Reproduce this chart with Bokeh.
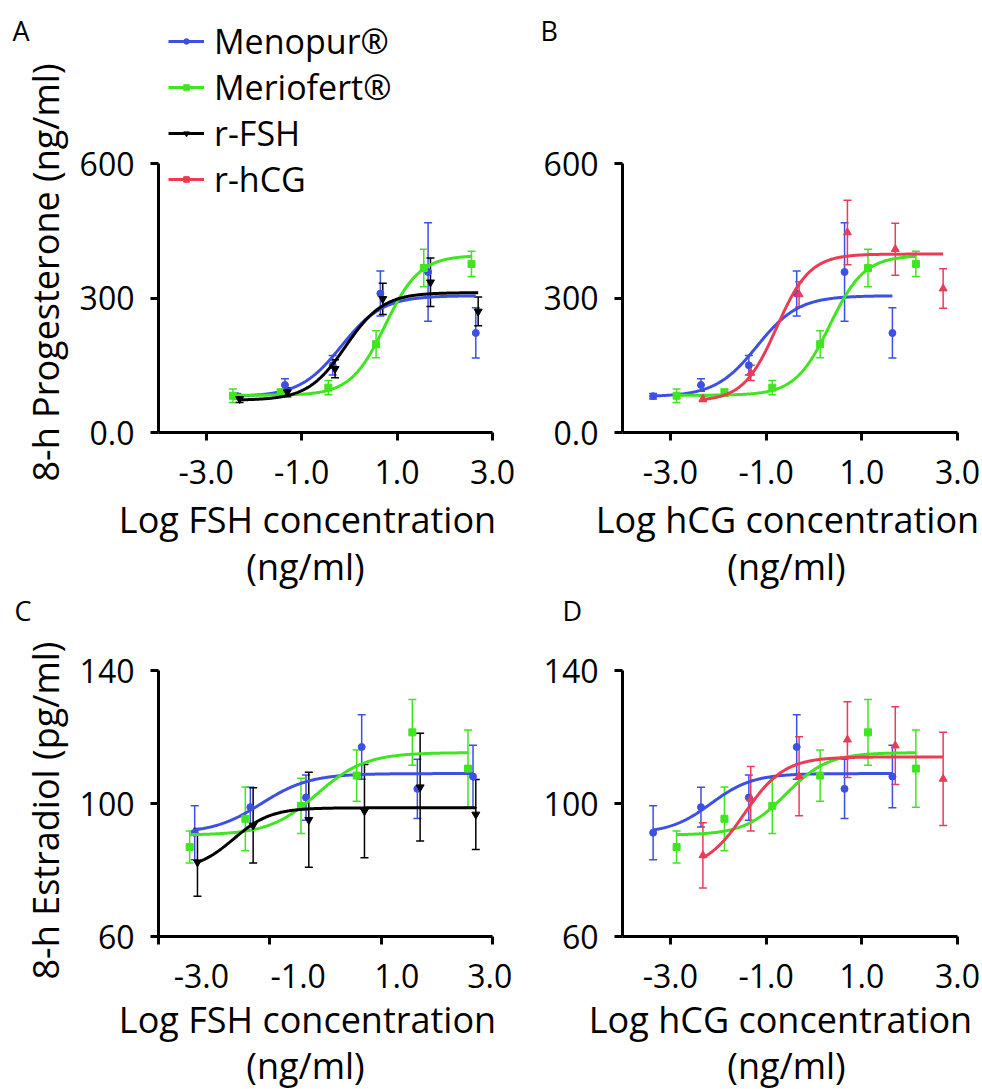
import numpy as np
from bokeh.plotting import figure
from bokeh.models import (Range1d, FixedTicker, ColumnDataSource, Whisker, TeeHead,
                          Legend, LegendItem, Label)
from bokeh.layouts import column, row
from bokeh.embed import file_html
from bokeh.resources import INLINE

FONT = "Open Sans"
TICK_FS = 32
LABEL_FS = 36
LETTER_FS = 27

# ---- log concentrations (ng/ml) ----
menopur_fsh_x = [-2.35, -1.35, -0.35, 0.65, 1.65, 2.65]
meriofert_fsh_x = [-2.44, -1.44, -0.44, 0.56, 1.56, 2.56]
rfsh_x = [-2.30, -1.30, -0.30, 0.70, 1.70, 2.70]
menopur_hcg_x = [-3.36, -2.36, -1.36, -0.36, 0.64, 1.64]
meriofert_hcg_x = [-2.87, -1.87, -0.87, 0.13, 1.13, 2.13]
rhcg_x = [-2.32, -1.32, -0.31, 0.70, 1.70, 2.70]

# ---- 8-h progesterone (ng/ml), mean and error ----
menopur_p4 = [81, 106, 150, 310, 358, 222]
menopur_p4_err = [6, 14, 22, 50, 110, 56]
meriofert_p4 = [82, 89, 100, 197, 367, 376]
meriofert_p4_err = [15, 8, 16, 30, 42, 28]
rfsh_p4 = [75, 90, 142, 298, 335, 270]
rfsh_p4_err = [8, 10, 20, 35, 54, 32]
rhcg_p4 = [75, 133, 308, 446, 409, 321]
rhcg_p4_err = [6, 17, 28, 72, 58, 44]

# ---- 8-h estradiol (pg/ml), mean and error ----
menopur_e2 = [91.2, 98.9, 101.8, 117.0, 104.4, 108.1]
menopur_e2_err = [8.1, 6.0, 6.8, 9.7, 8.9, 9.4]
meriofert_e2 = [86.9, 95.4, 99.3, 108.4, 121.4, 110.5]
meriofert_e2_err = [4.8, 9.6, 8.3, 7.7, 9.9, 11.6]
rfsh_e2 = [82.3, 93.4, 95.1, 97.7, 104.9, 96.7]
rfsh_e2_err = [10.2, 11.3, 14.3, 14.0, 16.2, 10.5]
rhcg_e2 = [84.4, 101.4, 108.2, 119.2, 117.4, 107.4]
rhcg_e2_err = [9.8, 9.7, 11.9, 11.4, 11.7, 14.0]

# ---- fitted sigmoid parameters: bottom, top, logEC50, Hill slope ----
fitA_menopur = [80, 305, -0.17, 1.0]
fitA_meriofert = [83, 395, 0.75, 1.2]
fitA_rfsh = [72, 312, -0.08, 1.1]
fitB_menopur = [80, 305, -1.19, 1.0]
fitB_meriofert = [83, 395, 0.33, 1.2]
fitB_rhcg = [70, 398, -0.78, 1.25]
fitC_menopur = [91, 109, -1.15, 1.0]
fitC_meriofert = [90.5, 115.3, -0.15, 1.0]
fitC_rfsh = [80, 98.7, -1.65, 1.3]
fitD_menopur = [91, 109, -2.15, 1.0]
fitD_meriofert = [90.5, 115.3, -0.58, 1.0]
fitD_rhcg = [80, 114, -1.45, 1.05]

# ---- axis ticks / labels ----
x_ticks = [-3, -1, 1, 3]
x_tick_labels = ["-3.0", "-1.0", "1.0", "3.0"]
c_tick_label_x = [-2.23, -0.49, 1.28, 2.95]   # where panel C prints its tick labels
p4_ticks = [0, 300, 600]
p4_tick_labels = ["0.0", "300", "600"]
e2_ticks = [60, 100, 140]
e2_tick_labels = ["60", "100", "140"]

# ---- texts ----
ylabel_p4 = "8-h Progesterone (ng/ml)"
ylabel_e2 = "8-h Estradiol (pg/ml)"
xlabel_fsh = "Log FSH concentration"
xlabel_hcg = "Log hCG concentration"
xlabel_unit = "(ng/ml)"

series_names = ["Menopur\u00ae", "Meriofert\u00ae", "r-FSH", "r-hCG"]
colors = {"Menopur\u00ae": "#3d50e4", "Meriofert\u00ae": "#3fe520",
          "r-FSH": "#000000", "r-hCG": "#eb3c57"}
markers = {"Menopur\u00ae": ("circle", 7), "Meriofert\u00ae": ("square", 7),
           "r-FSH": ("inverted_triangle", 8), "r-hCG": ("triangle", 8)}

# page placement of each figure (x, y) and of its plotting frame (left, top, right, bottom).
# The top row's frames reach up to y=4 so the legend fits inside; the axes stop at 600.
FIG_POS = {"A": (0, 0), "B": (540, 0), "C": (0, 590), "D": (540, 590)}
FRAME = {"A": (158, 4, 492, 432), "B": (622, 4, 957, 432),
         "C": (158, 670, 492, 936), "D": (622, 670, 957, 936)}
AXIS_TOP_ROW1 = 163   # page y where the 600 tick of the top row sits


def style_axis(ax):
    ax.axis_line_width = 3
    ax.axis_line_color = "black"
    ax.major_tick_line_width = 3
    ax.major_tick_line_color = "black"
    ax.major_tick_out = 8
    ax.major_tick_in = 0
    ax.minor_tick_out = 0
    ax.minor_tick_in = 0
    ax.major_label_text_font = FONT
    ax.major_label_text_font_size = f"{TICK_FS}px"
    ax.major_label_text_color = "black"


def make_fig(key, w, h, xr, yr, yticks, ylabels):
    fx, fy = FIG_POS[key]
    l, t, r, b = FRAME[key]
    p = figure(width=w, height=h, x_range=Range1d(*xr), y_range=Range1d(*yr),
               output_backend="svg", toolbar_location=None,
               min_border_left=l - fx, min_border_right=fx + w - r,
               min_border_top=t - fy, min_border_bottom=fy + h - b)
    p.outline_line_color = None
    p.xgrid.visible = False
    p.ygrid.visible = False
    style_axis(p.xaxis[0])
    style_axis(p.yaxis[0])
    p.yaxis[0].ticker = FixedTicker(ticks=yticks)
    p.yaxis[0].major_label_overrides = dict(zip(yticks, ylabels))
    p.yaxis[0].major_label_standoff = 16
    p.yaxis[0].bounds = (yticks[0], yticks[-1])
    p.xaxis[0].ticker = FixedTicker(ticks=x_ticks)
    p.xaxis[0].major_label_overrides = dict(zip(x_ticks, x_tick_labels))
    p.xaxis[0].major_label_standoff = 19
    return p


def add_series(p, name, xs, ys, errs, fit):
    c = colors[name]
    xs = np.array(xs, dtype=float)
    ys = np.array(ys, dtype=float)
    errs = np.array(errs, dtype=float)
    src = ColumnDataSource(dict(x=xs, y=ys, upper=ys + errs, lower=ys - errs))
    p.add_layout(Whisker(source=src, base="x", upper="upper", lower="lower",
                         line_color=c, line_width=1.5,
                         upper_head=TeeHead(size=8, line_color=c, line_width=1.5),
                         lower_head=TeeHead(size=8, line_color=c, line_width=1.5)))
    bottom, top, ec50, hill = fit
    xc = np.linspace(xs[0], xs[-1], 300)
    yc = bottom + (top - bottom) / (1 + 10 ** ((ec50 - xc) * hill))
    ln = p.line(xc, yc, line_color=c, line_width=3)
    mk, sz = markers[name]
    sc = p.scatter(xs, ys, marker=mk, size=sz, fill_color=c, line_color=c)
    return [ln, sc]


def page_text(p, key, px, py, text, fs, side, align="left", rotated=False):
    """Text whose baseline sits at page pixel (px, py); kept in a side panel of p."""
    shift = 0.36 * fs          # renderer places the alphabetic baseline this much lower
    if rotated:
        px -= shift
    else:
        py -= shift
    l, t, r, b = FRAME[key]
    x0, x1 = p.x_range.start, p.x_range.end
    y0, y1 = p.y_range.start, p.y_range.end
    xd = x0 + (px - l) / (r - l) * (x1 - x0)
    yd = y0 + (b - py) / (b - t) * (y1 - y0)
    p.add_layout(Label(x=xd, y=yd, text=text, text_font=FONT, text_font_size=f"{fs}px",
                       text_color="black", text_align=align, text_baseline="alphabetic",
                       angle=np.pi / 2 if rotated else 0.0), side)


p4_top = 600 * (FRAME["A"][3] - FRAME["A"][1]) / (FRAME["A"][3] - AXIS_TOP_ROW1)

# ---------------- Panel A ----------------
pA = make_fig("A", 540, 590, (-4.0, 3.0), (0, p4_top), p4_ticks, p4_tick_labels)
rA = {}
rA["Menopur\u00ae"] = add_series(pA, "Menopur\u00ae", menopur_fsh_x, menopur_p4, menopur_p4_err, fitA_menopur)
rA["Meriofert\u00ae"] = add_series(pA, "Meriofert\u00ae", meriofert_fsh_x, meriofert_p4, meriofert_p4_err, fitA_meriofert)
rA["r-FSH"] = add_series(pA, "r-FSH", rfsh_x, rfsh_p4, rfsh_p4_err, fitA_rfsh)
# r-hCG is not measured in panel A: legend-only glyphs with no drawable point
c = colors["r-hCG"]
rA["r-hCG"] = [pA.line([np.nan], [np.nan], line_color=c, line_width=3),
               pA.scatter([np.nan], [np.nan], marker="square", size=6, fill_color=c, line_color=c)]
legend = Legend(items=[LegendItem(label=n, renderers=rA[n]) for n in series_names],
                location=(10, 230), padding=0, margin=0, spacing=0,
                glyph_width=36, glyph_height=14, label_height=44, label_standoff=10,
                label_text_font=FONT, label_text_font_size="34px", label_text_color="black",
                border_line_color=None, background_fill_alpha=0)
pA.add_layout(legend, "center")
page_text(pA, "A", 12, 40, "A", LETTER_FS, "right")
page_text(pA, "A", 58, 272, ylabel_p4, LABEL_FS, "left", "center", rotated=True)
page_text(pA, "A", 307, 532, xlabel_fsh, LABEL_FS, "below", "center")
page_text(pA, "A", 305, 579, xlabel_unit, LABEL_FS, "below", "center")

# ---------------- Panel B ----------------
pB = make_fig("B", 442, 590, (-4.0, 3.0), (0, p4_top), p4_ticks, p4_tick_labels)
add_series(pB, "Menopur\u00ae", menopur_hcg_x, menopur_p4, menopur_p4_err, fitB_menopur)
add_series(pB, "Meriofert\u00ae", meriofert_hcg_x, meriofert_p4, meriofert_p4_err, fitB_meriofert)
add_series(pB, "r-hCG", rhcg_x, rhcg_p4, rhcg_p4_err, fitB_rhcg)
page_text(pB, "B", 540, 40, "B", LETTER_FS, "right")
page_text(pB, "B", 787, 532, xlabel_hcg, LABEL_FS, "below", "center")
page_text(pB, "B", 786, 579, xlabel_unit, LABEL_FS, "below", "center")

# ---------------- Panel C ----------------
pC = make_fig("C", 540, 499, (-3.0, 3.0), (60, 140), e2_ticks, e2_tick_labels)
# tick marks at -3,-1,1,3 (as minor ticks); printed labels sit where the original shows them
pC.xaxis[0].ticker = FixedTicker(ticks=c_tick_label_x, minor_ticks=x_ticks)
pC.xaxis[0].major_label_overrides = dict(zip(c_tick_label_x, x_tick_labels))
pC.xaxis[0].major_tick_out = 0
pC.xaxis[0].minor_tick_out = 8
pC.xaxis[0].minor_tick_line_width = 3
pC.xaxis[0].minor_tick_line_color = "black"
pC.xaxis[0].major_label_standoff = 19
add_series(pC, "Menopur\u00ae", menopur_fsh_x, menopur_e2, menopur_e2_err, fitC_menopur)
add_series(pC, "Meriofert\u00ae", meriofert_fsh_x, meriofert_e2, meriofert_e2_err, fitC_meriofert)
add_series(pC, "r-FSH", rfsh_x, rfsh_e2, rfsh_e2_err, fitC_rfsh)
page_text(pC, "C", 14, 620, "C", LETTER_FS, "right")
page_text(pC, "C", 58, 810, ylabel_e2, LABEL_FS, "left", "center", rotated=True)
page_text(pC, "C", 307, 1032, xlabel_fsh, LABEL_FS, "below", "center")
page_text(pC, "C", 305, 1078, xlabel_unit, LABEL_FS, "above", "center")

# ---------------- Panel D ----------------
pD = make_fig("D", 442, 499, (-4.0, 3.0), (60, 140), e2_ticks, e2_tick_labels)
add_series(pD, "Menopur\u00ae", menopur_hcg_x, menopur_e2, menopur_e2_err, fitD_menopur)
add_series(pD, "Meriofert\u00ae", meriofert_hcg_x, meriofert_e2, meriofert_e2_err, fitD_meriofert)
add_series(pD, "r-hCG", rhcg_x, rhcg_e2, rhcg_e2_err, fitD_rhcg)
page_text(pD, "D", 562, 620, "D", LETTER_FS, "right")
page_text(pD, "D", 780, 1032, xlabel_hcg, LABEL_FS, "below", "center")
page_text(pD, "D", 786, 1078, xlabel_unit, LABEL_FS, "above", "center")

layout = column(row(pA, pB), row(pC, pD))
open("out.html", "w").write(file_html(layout, INLINE))
